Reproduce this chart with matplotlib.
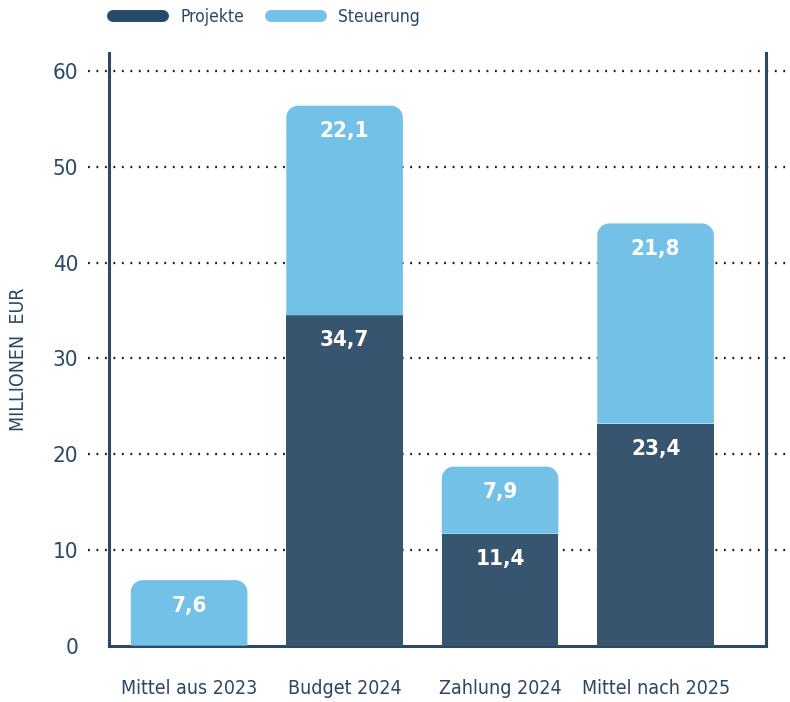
import matplotlib
matplotlib.use("Agg")
import matplotlib.pyplot as plt
from matplotlib.patches import PathPatch
from matplotlib.path import Path
from matplotlib.lines import Line2D

# data (bar heights as drawn in the picture, labels as printed on it)
categories = ["Mittel aus 2023", "Budget 2024", "Zahlung 2024", "Mittel nach 2025"]
projekte = [0.0, 34.5, 11.7, 23.2]
steuerung = [6.85, 21.9, 7.0, 20.9]
projekte_labels = ["", "34,7", "11,4", "23,4"]
steuerung_labels = ["7,6", "22,1", "7,9", "21,8"]
yticks = [0, 10, 20, 30, 40, 50, 60]

dark = "#38556F"
light = "#74C1E8"
legend_dark = "#264A6A"
text_col = "#2B4766"

plt.rcParams["font.family"] = ["DejaVu Sans"]
plt.rcParams["font.stretch"] = "condensed"

fig = plt.figure(figsize=(7.9, 7.02), dpi=100)
ax = fig.add_axes([109 / 790, 1 - 645.7 / 702, 657 / 790, 592.7 / 702])
ax.set_xlim(-0.515, 3.71)
ax.set_ylim(0, 61.9)

bar_w = 0.75
# corner radius in data units (about 12 px)
px_x = 657 / (3.71 + 0.515)
px_y = 592.7 / 61.9
rx = 12 / px_x
ry = 12 / px_y
k = 0.5523


def rounded_segment(x, bottom, height, color):
    l = x - bar_w / 2
    r = x + bar_w / 2
    t = bottom + height
    verts = [(l, bottom), (r, bottom), (r, t - ry),
             (r, t - ry + k * ry), (r - rx + k * rx, t), (r - rx, t),
             (l + rx, t),
             (l + rx - k * rx, t), (l, t - ry + k * ry), (l, t - ry),
             (l, bottom)]
    codes = [Path.MOVETO, Path.LINETO, Path.LINETO,
             Path.CURVE4, Path.CURVE4, Path.CURVE4,
             Path.LINETO,
             Path.CURVE4, Path.CURVE4, Path.CURVE4,
             Path.CLOSEPOLY]
    ax.add_patch(PathPatch(Path(verts, codes), facecolor=color,
                           edgecolor="none", zorder=3))


for i, cat in enumerate(categories):
    p = projekte[i]
    s = steuerung[i]
    if p > 0:
        ax.bar(i, p, width=bar_w, color=dark, zorder=3)
        ax.annotate(projekte_labels[i], (i, p), xytext=(0, -18),
                    textcoords="offset points", ha="center", va="center",
                    color="white", fontsize=16, fontweight="bold", zorder=4)
    rounded_segment(i, p, s, light)
    ax.annotate(steuerung_labels[i], (i, p + s), xytext=(0, -18.5),
                textcoords="offset points", ha="center", va="center",
                color="white", fontsize=16, fontweight="bold", zorder=4)

# dotted grid lines, running past both spines
for y in yticks[1:]:
    ax.hlines(y, -0.032, 1.04, transform=ax.get_yaxis_transform(),
              colors="#1a1a1a", linestyles=(0, (0.8, 2.9)), linewidth=1.65,
              clip_on=False, zorder=1)

for side in ["left", "right", "bottom"]:
    ax.spines[side].set_color("#2B4866")
    ax.spines[side].set_linewidth(2.2)
ax.spines["top"].set_visible(False)

ax.set_yticks(yticks)
ax.set_xticks(range(len(categories)))
ax.set_xticklabels(categories)
ax.tick_params(axis="y", length=0, pad=22, labelsize=16, labelcolor=text_col)
ax.tick_params(axis="x", length=0, pad=24, labelsize=14, labelcolor=text_col)

ax.set_ylabel("MILLIONEN  EUR", fontsize=14, color=text_col)
ax.yaxis.set_label_coords(-0.124, 0.483)

handles = [Line2D([], [], color=legend_dark, lw=8.6, solid_capstyle="round"),
           Line2D([], [], color=light, lw=8.6, solid_capstyle="round")]
fig.legend(handles, ["Projekte", "Steuerung"], loc="center left",
           bbox_to_anchor=(113 / 790, 1 - 17 / 702), ncol=2, frameon=False,
           fontsize=12.5, handlelength=2.9, handletextpad=1.0, columnspacing=1.5,
           borderpad=0, borderaxespad=0, labelcolor=text_col)

plt.savefig("out.png", dpi=100)
